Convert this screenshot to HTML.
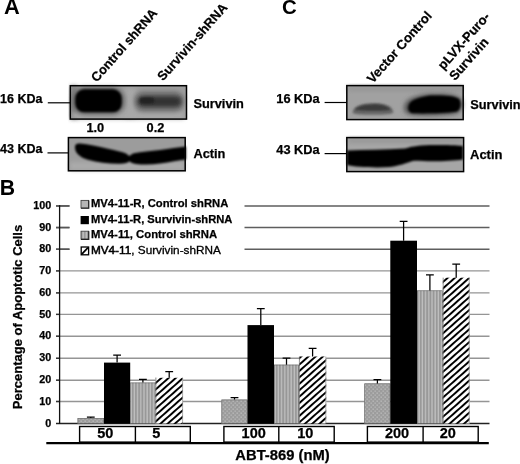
<!DOCTYPE html>
<html><head><meta charset="utf-8">
<style>
html,body{margin:0;padding:0;background:#fff;}
body{width:520px;height:464px;overflow:hidden;position:relative;}
svg{position:absolute;left:0;top:0;filter:grayscale(1);}
text{font-family:"Liberation Sans",sans-serif;font-weight:bold;fill:#000;stroke:#000;stroke-width:0.25;}
</style></head><body>
<svg width="520" height="464" viewBox="0 0 520 464">
<defs>
  <filter id="b3" x="-30%" y="-60%" width="160%" height="220%"><feGaussianBlur stdDeviation="2"/></filter>
  <filter id="b1" x="-30%" y="-60%" width="160%" height="220%"><feGaussianBlur stdDeviation="1.1"/></filter>
  <filter id="b2" x="-30%" y="-60%" width="160%" height="220%"><feGaussianBlur stdDeviation="1.3"/></filter>
  <filter id="b4" x="-30%" y="-60%" width="160%" height="220%"><feGaussianBlur stdDeviation="3"/></filter>
  <filter id="b6" x="-50%" y="-50%" width="200%" height="200%"><feGaussianBlur stdDeviation="5"/></filter>
  <pattern id="dots" width="4" height="4" patternUnits="userSpaceOnUse">
    <rect width="4" height="4" fill="#9c9c9c"/>
    <rect x="0.5" y="0.5" width="1.3" height="1.3" fill="#c0c0c0"/>
    <rect x="2.5" y="2.5" width="1.3" height="1.3" fill="#bababa"/>
  </pattern>
  <pattern id="vstripe" width="3.2" height="4" patternUnits="userSpaceOnUse" x="130.2">
    <rect width="3.2" height="4" fill="#969696"/>
    <rect x="0.3" y="0" width="1.4" height="4" fill="#c0c0c0"/>
  </pattern>
  <pattern id="hatch" width="4.8" height="4.8" patternUnits="userSpaceOnUse" patternTransform="rotate(48.4)">
    <rect width="4.8" height="4.8" fill="#fff"/>
    <rect x="0" y="0" width="1.95" height="4.8" fill="#000"/>
  </pattern>
</defs>
<text x="4.1" y="14.1" font-size="21.8" style="stroke-width:0">A</text>
<text x="282.1" y="14.2" font-size="20.4" style="stroke-width:0">C</text>
<text x="-0.3" y="194.8" font-size="21.2" style="stroke-width:0">B</text>
<text transform="translate(96.8,82.8) rotate(-48.5)" font-size="12.9">Control shRNA</text>
<text transform="translate(163.1,81.6) rotate(-48.5)" font-size="12.9">Survivin-shRNA</text>
<text transform="translate(372.8,83.9) rotate(-48.5)" font-size="13.1">Vector Control</text>
<text transform="translate(443.6,70.4) rotate(-48.5)" font-size="13.1">pLVX-Puro-</text>
<text transform="translate(455.0,81.2) rotate(-48.5)" font-size="13.1">Survivin</text>
<g>
  <rect x="70.3" y="85.7" width="116.2" height="33.4" fill="#9d9d9d"/>
  <rect x="70.3" y="85.7" width="7" height="33.4" fill="#808080" filter="url(#b3)"/>
  <rect x="72" y="112" width="112" height="7" fill="#a9a9a9" filter="url(#b3)"/>
  <rect x="125" y="88" width="11" height="30" fill="#a8a8a8" filter="url(#b3)"/>
  <rect x="72" y="87" width="53" height="28" rx="13" fill="#6a6a6a" filter="url(#b3)"/>
  <rect x="75.2" y="89.3" width="46.6" height="23" rx="9" fill="#000" filter="url(#b1)"/>
  <rect x="134" y="91" width="50" height="21" rx="9" fill="#777" filter="url(#b3)"/>
  <rect x="137.5" y="96" width="44" height="11" rx="5.5" fill="#333" filter="url(#b3)"/>
  <rect x="140" y="97.5" width="14" height="6" rx="3" fill="#222" filter="url(#b2)"/>
  <rect x="70.3" y="85.7" width="116.2" height="33.4" fill="none" stroke="#000" stroke-width="1.5"/>
  <line x1="47.8" y1="102.8" x2="70.3" y2="102.8" stroke="#000" stroke-width="1.2"/>
</g>
<g>
  <rect x="68.4" y="137.6" width="116.8" height="33.2" fill="#9c9c9c"/>
  <rect x="70" y="162" width="114" height="8" fill="#ababab" filter="url(#b3)"/>
  <path d="M75 147.5 C75 144 77 143.3 80 143.5 C88 144 98 146.5 108 148.8 C116 150.5 122 152 126 153.5 C127.5 154.5 128.5 155.5 129.5 156 C130.5 155 132 154 134 153.3 C142 151.8 150 151 160 150 C170 148.5 178 147.3 186 146.5 L186 159.5 C178 160.5 170 162 160 163.5 C152 164.8 143 164.8 136 164 C133 163.5 131 162.5 129.5 161.2 C128 162.5 125 163.5 120 163.8 C110 164 98 162.5 88 159.8 C80 157.5 75 153 75 147.5 Z" fill="#000" filter="url(#b1)"/>
  <rect x="68.4" y="137.6" width="116.8" height="33.2" fill="none" stroke="#000" stroke-width="1.5"/>
  <line x1="47.5" y1="152.9" x2="68.4" y2="152.9" stroke="#000" stroke-width="1.2"/>
</g>
<text x="0" y="102.9" font-size="12.5">16 KDa</text>
<text x="0" y="152.9" font-size="12.5">43 KDa</text>
<text x="86.4" y="131.8" font-size="12.8">1.0</text>
<text x="146.6" y="131.8" font-size="12.8">0.2</text>
<text x="193.4" y="108.4" font-size="12.8">Survivin</text>
<text x="193.4" y="158.4" font-size="12.8">Actin</text>
<g>
  <rect x="346.8" y="85.6" width="116.4" height="34" fill="#a1a1a1"/>
  <rect x="348" y="86" width="114" height="5" fill="#959595" filter="url(#b3)"/>
  <path d="M352.5 112.5 C353 106 362 103.5 373 103.3 C384 103.3 392 105.5 393.5 112 C393 114.5 385 114.8 373 114.8 C361 114.8 353 114.5 352.5 112.5 Z" fill="#686868" filter="url(#b2)"/>
  <path d="M355 110 C357 106 365 104.5 374 104.3 C382 104.3 388 106 390.5 110 C386 111 364 111 355 110 Z" fill="#3a3a3a" filter="url(#b2)"/>
  <path d="M404 108 C404 100 412 96 428 94 C445 93 458 94 462 100 C464 106 462 112 455 114 C440 116 420 116 412 115 C406 114 404 112 404 108 Z" fill="#555" filter="url(#b3)"/>
  <path d="M408.2 107.5 C408.5 101 415 98 430 95.5 C445 95 455 96 459 99 C461.5 103 461 109 457 111.5 C445 113.5 425 113.5 413 113.3 C409 112.5 408 110 408.2 107.5 Z" fill="#000" filter="url(#b1)"/>
  <rect x="346.8" y="85.6" width="116.4" height="34" fill="none" stroke="#000" stroke-width="1.5"/>
  <line x1="324.6" y1="102.5" x2="346.8" y2="102.5" stroke="#000" stroke-width="1.2"/>
</g>
<g>
  <rect x="346.8" y="137.6" width="116.8" height="34" fill="#a6a6a6"/>
  <rect x="348" y="138" width="114" height="5" fill="#979797" filter="url(#b3)"/>
  <path d="M347 150.5 C365 150 385 149.5 405 148.5 C410 147 415 145.5 430 145 C450 144.8 460 145.5 463 146 L463 159.5 C450 161.5 430 161.5 414 160.8 C408 162 404 165 390 167 C375 168 355 167 347 165 Z" fill="#000" filter="url(#b1)"/>
  <rect x="346.8" y="137.6" width="116.8" height="34" fill="none" stroke="#000" stroke-width="1.5"/>
  <line x1="324.6" y1="153.6" x2="346.8" y2="153.6" stroke="#000" stroke-width="1.2"/>
</g>
<text x="276.3" y="102.9" font-size="12.8">16 KDa</text>
<text x="276.3" y="154.2" font-size="12.8">43 KDa</text>
<text x="470.2" y="108.6" font-size="12.8">Survivin</text>
<text x="470.0" y="159.1" font-size="13.0">Actin</text>
<g stroke="#5e5e5e" stroke-width="1.5"><line x1="56" y1="205.9" x2="489.5" y2="205.9"/><line x1="56" y1="227.6" x2="489.5" y2="227.6"/><line x1="56" y1="249.2" x2="489.5" y2="249.2"/></g>
<g stroke="#959595" stroke-width="1.4"><line x1="56" y1="270.9" x2="489.5" y2="270.9"/><line x1="56" y1="292.9" x2="489.5" y2="292.9"/><line x1="56" y1="314.4" x2="489.5" y2="314.4"/><line x1="56" y1="336.2" x2="489.5" y2="336.2"/><line x1="56" y1="358.3" x2="489.5" y2="358.3"/><line x1="56" y1="380.2" x2="489.5" y2="380.2"/><line x1="56" y1="401.5" x2="489.5" y2="401.5"/></g>
<rect x="69.5" y="197" width="175" height="60" fill="#fff"/>
<g stroke="#555" stroke-width="1.5"><line x1="56" y1="205.9" x2="69.5" y2="205.9"/><line x1="56" y1="227.6" x2="69.5" y2="227.6"/><line x1="56" y1="249.2" x2="69.5" y2="249.2"/></g>
<g stroke="#333" stroke-width="1.4"><line x1="56" y1="270.9" x2="59.6" y2="270.9"/><line x1="56" y1="292.9" x2="59.6" y2="292.9"/><line x1="56" y1="314.4" x2="59.6" y2="314.4"/><line x1="56" y1="336.2" x2="59.6" y2="336.2"/><line x1="56" y1="358.3" x2="59.6" y2="358.3"/><line x1="56" y1="380.2" x2="59.6" y2="380.2"/><line x1="56" y1="401.5" x2="59.6" y2="401.5"/></g>
<line x1="56" y1="423.5" x2="489.5" y2="423.5" stroke="#222" stroke-width="1.3"/>
<line x1="59.6" y1="205.2" x2="59.6" y2="424" stroke="#111" stroke-width="1.3"/>
<text x="51.3" y="209.0" font-size="10.8" text-anchor="end">100</text>
<text x="51.3" y="230.7" font-size="10.8" text-anchor="end">90</text>
<text x="51.3" y="252.3" font-size="10.8" text-anchor="end">80</text>
<text x="51.3" y="274.0" font-size="10.8" text-anchor="end">70</text>
<text x="51.3" y="296.0" font-size="10.8" text-anchor="end">60</text>
<text x="51.3" y="317.5" font-size="10.8" text-anchor="end">50</text>
<text x="51.3" y="339.3" font-size="10.8" text-anchor="end">40</text>
<text x="51.3" y="361.4" font-size="10.8" text-anchor="end">30</text>
<text x="51.3" y="383.3" font-size="10.8" text-anchor="end">20</text>
<text x="51.3" y="404.6" font-size="10.8" text-anchor="end">10</text>
<text x="51.3" y="426.6" font-size="10.8" text-anchor="end">0</text>
<text transform="translate(22,409.2) rotate(-90)" font-size="12.5" textLength="184.4" lengthAdjust="spacingAndGlyphs">Percentage of Apoptotic Cells</text>
<rect x="81" y="200.4" width="7.6" height="7.6" fill="#b6b6b6" stroke="#444" stroke-width="0.9"/>
<path d="M81 208.2 H88.8 V200.4" fill="none" stroke="#222" stroke-width="1.1"/>
<rect x="80.6" y="216" width="8.3" height="8.2" fill="#000"/>
<rect x="81" y="231.2" width="7.6" height="8" fill="url(#vstripe)" stroke="#444" stroke-width="0.9"/>
<path d="M81 239.4 H88.8 V231.2" fill="none" stroke="#222" stroke-width="1.1"/>
<rect x="81.2" y="247" width="7.4" height="7.8" fill="#fff" stroke="#000" stroke-width="1.3"/>
<line x1="81.8" y1="254.2" x2="88" y2="247.6" stroke="#000" stroke-width="1.7"/>
<text x="90.9" y="206.9" font-size="11" textLength="137.4" lengthAdjust="spacingAndGlyphs">MV4-11-R, Control shRNA</text>
<text x="90.9" y="222.8" font-size="11" textLength="141.5" lengthAdjust="spacingAndGlyphs">MV4-11-R, Survivin-shRNA</text>
<text x="90.9" y="238.0" font-size="11" textLength="126.2" lengthAdjust="spacingAndGlyphs">MV4-11, Control shRNA</text>
<text x="90.9" y="254.1" font-size="11" textLength="130" lengthAdjust="spacingAndGlyphs" style="font-weight:normal;stroke-width:0.3"><tspan style="stroke:#000;stroke-width:0.5">MV4-11</tspan>, Survivin-shRNA</text>
<rect x="77.6" y="418.1" width="26.4" height="5.4" fill="url(#dots)"/>
<rect x="77.89999999999999" y="418.40000000000003" width="25.8" height="5.4" fill="none" stroke="#666" stroke-width="0.6"/>
<path d="M90.8 418.1 V417.2 M86.9 417.2 H94.7" stroke="#000" stroke-width="1.25" fill="none"/>
<rect x="104.0" y="362.6" width="26.2" height="60.9" fill="#000"/>
<path d="M117.1 362.6 V355.2 M113.2 355.2 H121.0" stroke="#000" stroke-width="1.25" fill="none"/>
<rect x="130.2" y="382.6" width="25.4" height="40.9" fill="url(#vstripe)"/>
<rect x="130.5" y="382.90000000000003" width="24.8" height="40.9" fill="none" stroke="#666" stroke-width="0.6"/>
<path d="M142.9 382.6 V379.3 M139.0 379.3 H146.8" stroke="#000" stroke-width="1.25" fill="none"/>
<rect x="155.5" y="377.8" width="27.5" height="45.7" fill="url(#hatch)"/>
<line x1="155.9" y1="377.8" x2="155.9" y2="423.5" stroke="#777" stroke-width="0.8"/><line x1="182.6" y1="377.8" x2="182.6" y2="423.5" stroke="#999" stroke-width="0.8"/>
<path d="M169.2 377.8 V371.7 M165.3 371.7 H173.1" stroke="#000" stroke-width="1.25" fill="none"/>
<rect x="221.5" y="399.6" width="26.0" height="23.9" fill="url(#dots)"/>
<rect x="221.8" y="399.90000000000003" width="25.4" height="23.9" fill="none" stroke="#666" stroke-width="0.6"/>
<path d="M234.5 399.6 V397.6 M230.6 397.6 H238.4" stroke="#000" stroke-width="1.25" fill="none"/>
<rect x="247.5" y="325.1" width="26.5" height="98.4" fill="#000"/>
<path d="M260.8 325.1 V308.6 M256.9 308.6 H264.7" stroke="#000" stroke-width="1.25" fill="none"/>
<rect x="274.0" y="364.7" width="25.0" height="58.8" fill="url(#vstripe)"/>
<rect x="274.3" y="365.0" width="24.4" height="58.8" fill="none" stroke="#666" stroke-width="0.6"/>
<path d="M286.5 364.7 V358.2 M282.6 358.2 H290.4" stroke="#000" stroke-width="1.25" fill="none"/>
<rect x="299.0" y="356.5" width="27.2" height="67.0" fill="url(#hatch)"/>
<line x1="299.4" y1="356.5" x2="299.4" y2="423.5" stroke="#777" stroke-width="0.8"/><line x1="325.8" y1="356.5" x2="325.8" y2="423.5" stroke="#999" stroke-width="0.8"/>
<path d="M312.6 356.5 V348.4 M308.7 348.4 H316.5" stroke="#000" stroke-width="1.25" fill="none"/>
<rect x="364.4" y="383.5" width="25.9" height="40.0" fill="url(#dots)"/>
<rect x="364.7" y="383.8" width="25.3" height="40.0" fill="none" stroke="#666" stroke-width="0.6"/>
<path d="M377.4 383.5 V379.5 M373.5 379.5 H381.3" stroke="#000" stroke-width="1.25" fill="none"/>
<rect x="390.3" y="240.7" width="26.7" height="182.8" fill="#000"/>
<path d="M403.6 240.7 V221.3 M399.7 221.3 H407.5" stroke="#000" stroke-width="1.25" fill="none"/>
<rect x="417.0" y="290.5" width="25.8" height="133.0" fill="url(#vstripe)"/>
<rect x="417.3" y="290.8" width="25.2" height="133.0" fill="none" stroke="#666" stroke-width="0.6"/>
<path d="M429.9 290.5 V274.9 M426.0 274.9 H433.8" stroke="#000" stroke-width="1.25" fill="none"/>
<rect x="442.8" y="277.7" width="26.8" height="145.8" fill="url(#hatch)"/>
<line x1="443.2" y1="277.7" x2="443.2" y2="423.5" stroke="#777" stroke-width="0.8"/><line x1="469.2" y1="277.7" x2="469.2" y2="423.5" stroke="#999" stroke-width="0.8"/>
<path d="M456.2 277.7 V264.0 M452.3 264.0 H460.1" stroke="#000" stroke-width="1.25" fill="none"/>
<g fill="#fff" stroke="#000" stroke-width="1.4">
<rect x="79.6" y="426.5" width="110.7" height="15.6"/>
<line x1="135.4" y1="426.5" x2="135.4" y2="442"/>
<rect x="223.9" y="426.5" width="110.3" height="15.6"/>
<line x1="278.8" y1="426.5" x2="278.8" y2="442"/>
<rect x="367.4" y="426.5" width="110.8" height="15.6"/>
<line x1="423.1" y1="426.5" x2="423.1" y2="442"/>
</g>
<text x="97.3" y="438.3" font-size="14.5">50</text>
<text x="152.3" y="438.3" font-size="14.5">5</text>
<text x="241.6" y="438.3" font-size="14.5">100</text>
<text x="297.2" y="438.3" font-size="14.5">10</text>
<text x="384.9" y="438.3" font-size="14.5">200</text>
<text x="439.7" y="438.3" font-size="14.5">20</text>
<line x1="46.3" y1="443.1" x2="488.8" y2="443.1" stroke="#000" stroke-width="2.4"/>
<text x="235.3" y="460.3" font-size="13.8" textLength="94.4" lengthAdjust="spacingAndGlyphs">ABT-869 (nM)</text>
</svg>
</body></html>
